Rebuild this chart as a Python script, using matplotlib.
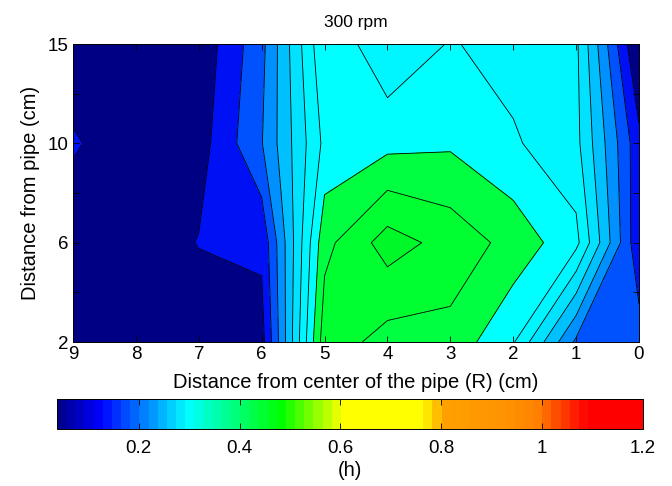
import numpy as np
import matplotlib
matplotlib.use('Agg')
import matplotlib.pyplot as plt
from matplotlib.colors import LinearSegmentedColormap, ListedColormap, Normalize
from matplotlib.cm import ScalarMappable

plt.rcParams['font.family'] = ['Liberation Sans', 'DejaVu Sans']

# ---- data ----
x_vals = [0, 1, 2, 3, 4, 5, 6, 7, 8, 9]          # distance from center (R) (cm)
y_labels = ['2', '6', '10', '15']                 # distance from pipe (cm)
h_y2  = [0.160, 0.172, 0.344, 0.406, 0.404, 0.444, 0.084, 0.068, 0.064, 0.064]
h_y6  = [0.108, 0.352, 0.406, 0.445, 0.478, 0.408, 0.108, 0.102, 0.069, 0.073]
h_y10 = [0.112, 0.312, 0.345, 0.374, 0.368, 0.350, 0.178, 0.082, 0.072, 0.105]
h_y15 = [0.052, 0.308, 0.325, 0.343, 0.307, 0.376, 0.168, 0.071, 0.068, 0.073]
contour_levels = [0.10, 0.14, 0.18, 0.22, 0.26, 0.30, 0.34, 0.38, 0.42, 0.46]
cbar_ticks = [0.2, 0.4, 0.6, 0.8, 1.0, 1.2]
cbar_ticklabels = ['0.2', '0.4', '0.6', '0.8', '1', '1.2']
cbar_min, cbar_max = 0.038, 1.2

# ---- styles ----
band_colors = ['#000084', '#0010F5', '#0052FF', '#0090FF', '#00C0FF', '#00E2FF',
               '#00F6FF', '#00FFFF', '#00FF40', '#00FF30', '#00F828']
cmap_nodes = [(0.038, '#00008F'), (0.115, '#0000FF'), (0.29, '#00FFFF'),
              (0.48, '#00FF00'), (0.585, '#D8FF00'), (0.60, '#FFFF00'),
              (0.765, '#FFFF00'), (0.785, '#FFD000'), (0.81, '#FFA000'),
              (0.95, '#FF9000'), (1.0, '#FF8000'), (1.03, '#FF5500'),
              (1.08, '#FF1500'), (1.1, '#FF0000'), (1.2, '#FF0000')]
span = cbar_max - cbar_min
base = LinearSegmentedColormap.from_list(
    'cb', [((v - cbar_min) / span, c) for v, c in cmap_nodes])
cmap = ListedColormap(base(np.linspace(0, 1, 64)))

TICK_FS = 13.5
LABEL_FS = 14.5

fig = plt.figure(figsize=(6.72, 4.86), dpi=100)
ax = fig.add_axes([73 / 672, 1 - 342 / 486, 566 / 672, 298 / 486])

Z = np.array([h_y2, h_y6, h_y10, h_y15])
X, Y = np.meshgrid(x_vals, np.arange(len(y_labels)))
fill_levels = [Z.min() - 0.01] + contour_levels + [Z.max() + 0.01]
ax.contourf(X, Y, Z, levels=fill_levels, colors=band_colors)
ax.contour(X, Y, Z, levels=contour_levels, colors='k', linewidths=0.6)

ax.set_xlim(9, 0)
ax.set_ylim(0, len(y_labels) - 1)
ax.set_xticks(x_vals)
ax.set_xticklabels([str(v) for v in x_vals])
yt = np.arange(0, len(y_labels) - 0.99, 0.5)
ax.set_yticks(yt)
ylab = []
for t in yt:
    ylab.append(y_labels[int(t)] if float(t).is_integer() else '')
ax.set_yticklabels(ylab)
ax.tick_params(direction='in', top=True, right=True, length=4,
               labelsize=TICK_FS, width=0.6, pad=3)
for s in ax.spines.values():
    s.set_linewidth(0.7)
ax.set_xlabel('Distance from center of the pipe (R) (cm)', fontsize=LABEL_FS,
              labelpad=7)
ax.set_ylabel('Distance from pipe (cm)', fontsize=LABEL_FS, labelpad=6)
ax.set_title('300 rpm', fontsize=12.5, pad=12)

cax = fig.add_axes([57 / 672, 1 - 429 / 486, 586 / 672, 30 / 486])
sm = ScalarMappable(norm=Normalize(cbar_min, cbar_max), cmap=cmap)
cb = fig.colorbar(sm, cax=cax, orientation='horizontal')
cb.set_ticks(cbar_ticks)
cb.set_ticklabels(cbar_ticklabels)
cb.outline.set_linewidth(0.7)
cax.tick_params(direction='in', top=True, bottom=True, length=4,
                labelsize=TICK_FS, width=0.6, pad=8)
cb.set_label('(h)', fontsize=LABEL_FS, labelpad=3)

fig.savefig('out.png', dpi=100)
